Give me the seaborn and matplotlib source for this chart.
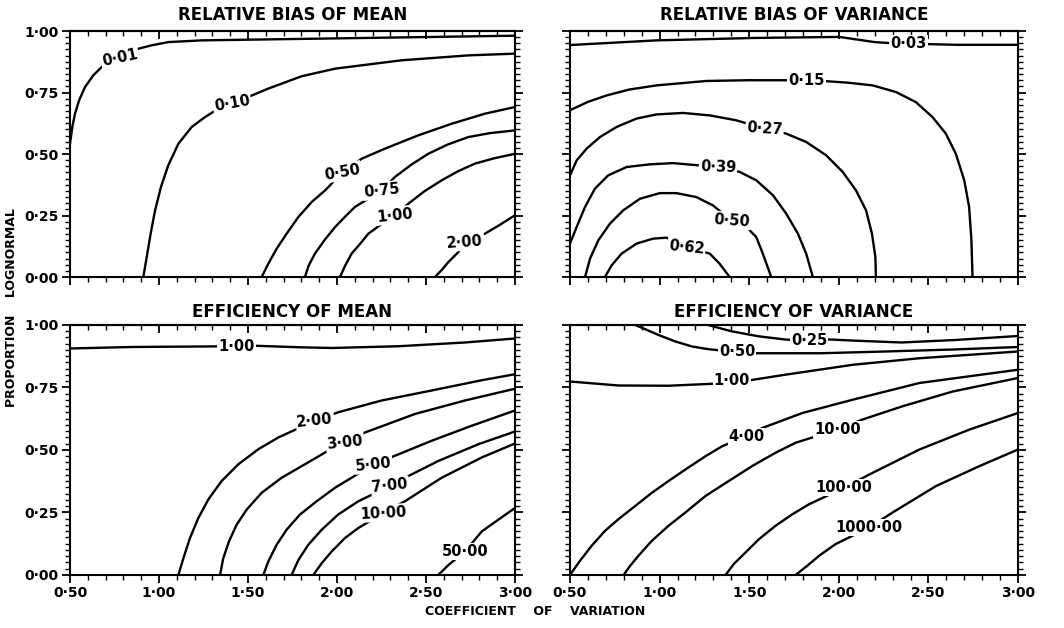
import matplotlib
matplotlib.use("Agg")
import matplotlib.pyplot as plt
import numpy as np
import pandas as pd
import seaborn as sns
from matplotlib.ticker import MultipleLocator, FixedLocator, FixedFormatter

# ---------------- data ----------------
x_ticks = [0.5, 1.0, 1.5, 2.0, 2.5, 3.0]
x_tick_labels = ["0·50", "1·00", "1·50", "2·00", "2·50", "3·00"]
y_ticks = [0.0, 0.25, 0.5, 0.75, 1.0]
y_tick_labels = ["0·00", "0·25", "0·50", "0·75", "1·00"]

panel_titles = ["RELATIVE BIAS OF MEAN", "RELATIVE BIAS OF VARIANCE",
                "EFFICIENCY OF MEAN", "EFFICIENCY OF VARIANCE"]

# Relative bias of mean
bm_levels = ["0·01", "0·10", "0·50", "0·75", "1·00", "2·00"]
bm_x = [
    [0.50, 0.513, 0.528, 0.551, 0.584, 0.631, 0.687, 0.734, 0.80, 0.884, 0.959,
     1.052, 1.24, 1.614, 2.176, 3.00],
    [0.912, 0.931, 0.953, 0.978, 1.011, 1.052, 1.109, 1.184, 1.258, 1.333, 1.41,
     1.502, 1.614, 1.801, 1.989, 2.363, 2.738, 3.00],
    [1.577, 1.614, 1.661, 1.717, 1.783, 1.858, 1.933, 2.03, 2.139, 2.27, 2.457,
     2.644, 2.831, 3.00],
    [1.82, 1.84, 1.876, 1.93, 1.989, 2.045, 2.101, 2.18, 2.251, 2.326, 2.42,
     2.513, 2.62, 2.738, 2.86, 3.00],
    [2.017, 2.045, 2.082, 2.13, 2.176, 2.25, 2.326, 2.401, 2.49, 2.588, 2.68,
     2.775, 2.88, 3.00],
    [2.551, 2.59, 2.626, 2.68, 2.719, 2.78, 2.831, 2.91, 3.00],
]
bm_y = [
    [0.542, 0.610, 0.664, 0.718, 0.772, 0.820, 0.860, 0.883, 0.905, 0.928, 0.942,
     0.955, 0.962, 0.966, 0.972, 0.981],
    [0.0, 0.081, 0.176, 0.271, 0.366, 0.454, 0.542, 0.61, 0.65, 0.684, 0.708,
     0.732, 0.766, 0.816, 0.847, 0.881, 0.901, 0.908],
    [0.0, 0.054, 0.115, 0.176, 0.244, 0.305, 0.352, 0.425, 0.481, 0.522, 0.576,
     0.623, 0.664, 0.691],
    [0.0, 0.045, 0.095, 0.15, 0.203, 0.245, 0.285, 0.32, 0.352, 0.407, 0.458,
     0.501, 0.538, 0.569, 0.585, 0.596],
    [0.0, 0.045, 0.095, 0.135, 0.176, 0.215, 0.251, 0.298, 0.348, 0.393, 0.43,
     0.461, 0.482, 0.501],
    [0.0, 0.03, 0.061, 0.10, 0.142, 0.162, 0.176, 0.21, 0.251],
]

# Relative bias of variance
bv_levels = ["0·03", "0·15", "0·27", "0·39", "0·50", "0·62"]
bv_x = [
    [0.50, 0.983, 1.539, 2.003, 2.20, 2.39, 2.43, 2.653, 3.00],
    [0.50, 0.60, 0.704, 0.83, 0.983, 1.261, 1.50, 1.818, 1.911, 2.05, 2.189,
     2.319, 2.43, 2.523, 2.597, 2.653, 2.70, 2.727, 2.74, 2.746],
    [0.50, 0.537, 0.593, 0.667, 0.76, 0.871, 0.983, 1.131, 1.28, 1.428, 1.586,
     1.706, 1.818, 1.929, 2.022, 2.096, 2.152, 2.185, 2.204, 2.207],
    [0.50, 0.537, 0.584, 0.639, 0.713, 0.815, 0.945, 1.075, 1.326, 1.447, 1.54,
     1.633, 1.707, 1.772, 1.818, 1.855],
    [0.584, 0.612, 0.658, 0.723, 0.797, 0.89, 1.001, 1.094, 1.205, 1.298, 1.40,
     1.484, 1.539, 1.576, 1.623],
    [0.695, 0.732, 0.788, 0.872, 0.964, 1.039, 1.15, 1.28, 1.335, 1.391],
]
bv_y = [
    [0.943, 0.962, 0.972, 0.976, 0.955, 0.946, 0.948, 0.944, 0.944],
    [0.678, 0.712, 0.738, 0.762, 0.779, 0.797, 0.80, 0.80, 0.797, 0.79, 0.779,
     0.752, 0.711, 0.65, 0.583, 0.501, 0.393, 0.285, 0.149, 0.0],
    [0.413, 0.474, 0.522, 0.569, 0.61, 0.644, 0.661, 0.667, 0.657, 0.637, 0.603,
     0.583, 0.549, 0.495, 0.427, 0.352, 0.271, 0.176, 0.081, 0.0],
    [0.136, 0.203, 0.285, 0.359, 0.413, 0.447, 0.458, 0.463, 0.447, 0.427, 0.393,
     0.332, 0.257, 0.176, 0.095, 0.0],
    [0.0, 0.075, 0.149, 0.217, 0.271, 0.318, 0.341, 0.341, 0.325, 0.291, 0.23,
     0.203, 0.163, 0.095, 0.0],
    [0.0, 0.047, 0.095, 0.136, 0.156, 0.16, 0.122, 0.095, 0.054, 0.0],
]

# Efficiency of mean
em_levels = ["1·00", "2·00", "3·00", "5·00", "7·00", "10·00", "50·00"]
em_x = [
    [0.50, 0.846, 1.436, 1.539, 1.783, 1.97, 2.345, 2.719, 3.00],
    [1.109, 1.137, 1.174, 1.221, 1.277, 1.352, 1.446, 1.558, 1.67, 1.876, 2.007,
     2.251, 2.532, 2.813, 3.00],
    [1.343, 1.361, 1.393, 1.436, 1.493, 1.577, 1.689, 1.82, 1.933, 2.045, 2.157,
     2.438, 2.719, 3.00],
    [1.586, 1.614, 1.661, 1.717, 1.792, 1.886, 1.989, 2.082, 2.204, 2.326, 2.532,
     2.757, 3.00],
    [1.745, 1.783, 1.839, 1.914, 2.007, 2.12, 2.298, 2.382, 2.569, 2.794, 3.00],
    [1.867, 1.914, 1.97, 2.045, 2.12, 2.26, 2.382, 2.588, 2.813, 3.00],
    [2.569, 2.626, 2.719, 2.813, 2.906, 3.00],
]
em_y = [
    [0.906, 0.912, 0.915, 0.917, 0.911, 0.908, 0.915, 0.930, 0.946],
    [0.0, 0.067, 0.148, 0.228, 0.302, 0.376, 0.443, 0.503, 0.55, 0.617, 0.651,
     0.698, 0.738, 0.779, 0.803],
    [0.0, 0.067, 0.134, 0.201, 0.262, 0.329, 0.389, 0.443, 0.49, 0.53, 0.57,
     0.644, 0.698, 0.745],
    [0.0, 0.054, 0.121, 0.181, 0.242, 0.295, 0.349, 0.389, 0.443, 0.477, 0.537,
     0.597, 0.658],
    [0.0, 0.06, 0.121, 0.181, 0.242, 0.295, 0.356, 0.389, 0.456, 0.523, 0.574],
    [0.0, 0.047, 0.094, 0.148, 0.188, 0.248, 0.295, 0.389, 0.47, 0.526],
    [0.0, 0.04, 0.094, 0.174, 0.221, 0.268],
]

# Efficiency of variance
ev_levels = ["0·25", "0·50", "1·00", "4·00", "10·00", "100·00", "1000·00"]
ev_x = [
    [1.27, 1.40, 1.55, 1.70, 1.834, 1.95, 2.10, 2.35, 2.65, 3.00],
    [0.864, 0.92, 0.994, 1.088, 1.181, 1.274, 1.432, 1.50, 1.90, 2.26, 2.64, 3.00],
    [0.50, 0.77, 1.05, 1.30, 1.404, 1.46, 1.70, 2.08, 2.45, 3.00],
    [0.50, 0.556, 0.621, 0.696, 0.77, 0.864, 0.957, 1.05, 1.144, 1.256, 1.349,
     1.487, 1.573, 1.797, 2.077, 2.45, 3.00],
    [0.799, 0.836, 0.882, 0.957, 1.05, 1.144, 1.256, 1.386, 1.517, 1.647, 1.759,
     1.993, 2.133, 2.356, 2.636, 3.00],
    [1.368, 1.414, 1.479, 1.554, 1.647, 1.741, 1.834, 2.03, 2.17, 2.45, 2.73, 3.00],
    [1.759, 1.824, 1.89, 1.983, 2.17, 2.30, 2.543, 2.786, 3.00],
]
ev_y = [
    [1.0, 0.975, 0.955, 0.942, 0.937, 0.942, 0.937, 0.930, 0.940, 0.956],
    [1.0, 0.983, 0.96, 0.934, 0.914, 0.903, 0.892, 0.887, 0.887, 0.894, 0.902, 0.912],
    [0.774, 0.758, 0.757, 0.765, 0.776, 0.774, 0.801, 0.841, 0.867, 0.894],
    [0.0, 0.057, 0.117, 0.177, 0.223, 0.276, 0.329, 0.376, 0.422, 0.475, 0.515,
     0.555, 0.588, 0.648, 0.701, 0.768, 0.821],
    [0.0, 0.037, 0.077, 0.137, 0.197, 0.25, 0.316, 0.376, 0.436, 0.489, 0.529,
     0.582, 0.622, 0.675, 0.734, 0.788],
    [0.0, 0.044, 0.09, 0.143, 0.197, 0.243, 0.283, 0.349, 0.402, 0.502, 0.582, 0.648],
    [0.0, 0.037, 0.077, 0.124, 0.19, 0.25, 0.356, 0.436, 0.502],
]

# contour label placement (x, y, rotation)
bm_lab = [(0.78, 0.892, 12), (1.41, 0.705, 10), (2.03, 0.427, 10),
          (2.251, 0.352, 6), (2.326, 0.251, 6), (2.719, 0.142, 4)]
bv_lab = [(2.39, 0.948, 0), (1.818, 0.80, 0), (1.586, 0.603, -4),
          (1.326, 0.447, -2), (1.40, 0.23, -4), (1.15, 0.122, -6)]
em_lab = [(1.436, 0.915, 0), (1.876, 0.617, 6), (2.045, 0.53, 6),
          (2.204, 0.443, 6), (2.298, 0.356, 6), (2.26, 0.248, 3), (2.719, 0.094, 0)]
ev_lab = [(1.834, 0.937, 0), (1.432, 0.892, 0), (1.404, 0.776, 0),
          (1.487, 0.555, 0), (1.993, 0.582, 0), (2.03, 0.349, 0), (2.17, 0.19, 0)]

# ---------------- style ----------------
sns.set_theme(style="white")
plt.rcParams["font.family"] = ["DejaVu Sans"]
plt.rcParams["axes.linewidth"] = 1.5
for key in ["text.color", "axes.labelcolor", "xtick.color", "ytick.color",
            "axes.edgecolor", "axes.titlecolor"]:
    plt.rcParams[key] = "black"

fig = plt.figure(figsize=(10.64, 6.28), dpi=100)
positions = [
    [0.0658, 0.5589, 0.4182, 0.3917],
    [0.5357, 0.5589, 0.4211, 0.3917],
    [0.0658, 0.0844, 0.4182, 0.3981],
    [0.5357, 0.0844, 0.4211, 0.3981],
]
panels = [
    (bm_levels, bm_x, bm_y, bm_lab),
    (bv_levels, bv_x, bv_y, bv_lab),
    (em_levels, em_x, em_y, em_lab),
    (ev_levels, ev_x, ev_y, ev_lab),
]

for k, (pos, (levels, xs, ys, labs)) in enumerate(zip(positions, panels)):
    ax = fig.add_axes(pos)
    rows = []
    for lev, xv, yv in zip(levels, xs, ys):
        for a, b in zip(xv, yv):
            rows.append({"level": lev, "x": a, "y": b})
    df = pd.DataFrame(rows)
    sns.lineplot(data=df, x="x", y="y", units="level", estimator=None,
                 sort=False, color="black", lw=1.7, ax=ax, legend=False)
    for line in ax.get_lines():
        line.set_solid_joinstyle("round")
    for lev, (lx, ly, rot) in zip(levels, labs):
        ax.text(lx, ly, lev, ha="center", va="center", rotation=rot,
                fontsize=10.5, fontweight="bold", color="black", zorder=6,
                bbox=dict(facecolor="white", edgecolor="none", pad=0.8))
    ax.set_xlim(0.5, 3.0)
    ax.set_ylim(0.0, 1.0)
    ax.set_xlabel("")
    ax.set_ylabel("")
    ax.set_title(panel_titles[k], fontsize=12, fontweight="bold",
                 color="black", pad=8 if k < 2 else 6)
    for s in ax.spines.values():
        s.set_linewidth(1.5)
        s.set_color("black")
    ax.xaxis.set_major_locator(FixedLocator(x_ticks))
    ax.xaxis.set_minor_locator(MultipleLocator(0.1))
    ax.yaxis.set_major_locator(FixedLocator(y_ticks))
    ax.yaxis.set_minor_locator(MultipleLocator(0.025))
    if k >= 2:
        ax.xaxis.set_major_formatter(FixedFormatter(x_tick_labels))
    else:
        ax.set_xticklabels([])
    if k % 2 == 0:
        ax.yaxis.set_major_formatter(FixedFormatter(y_tick_labels))
    else:
        ax.set_yticklabels([])
    ax.tick_params(axis="x", which="both", bottom=True, top=False,
                   direction="out", color="black")
    ax.tick_params(axis="y", which="both", left=True, right=True,
                   direction="out", color="black")
    ax.tick_params(which="major", length=6, width=1.3, labelsize=10, pad=2)
    ax.tick_params(which="minor", length=3.5, width=1.0)
    for t in ax.get_xticklabels() + ax.get_yticklabels():
        t.set_fontweight("bold")
    sec = ax.secondary_xaxis("top")
    sec.set_xticks(x_ticks)
    sec.xaxis.set_minor_locator(MultipleLocator(0.1))
    sec.tick_params(which="both", direction="in", labeltop=False, color="black")
    sec.tick_params(which="major", length=6, width=1.3)
    sec.tick_params(which="minor", length=3.5, width=1.0)
    sec.spines["top"].set_linewidth(1.5)

fig.text(0.503, 0.0255, "COEFFICIENT    OF    VARIATION", ha="center",
         va="center", fontsize=9, fontweight="bold", color="black")
fig.text(0.011, 0.51, "PROPORTION    LOGNORMAL", ha="center", va="center",
         rotation=90, fontsize=9, fontweight="bold", color="black")

fig.savefig("out.png", dpi=100, facecolor="white")
